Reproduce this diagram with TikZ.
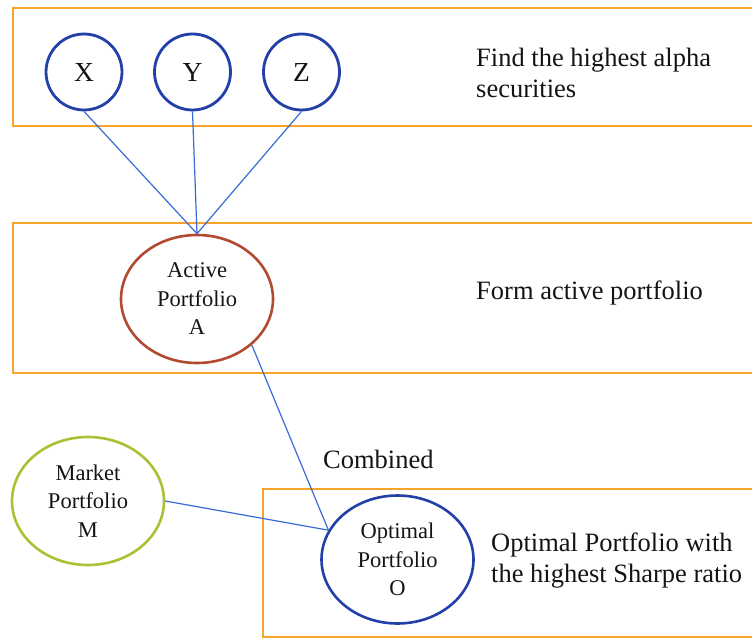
\documentclass[tikz,border=0pt]{standalone}
\usepackage{fontspec}
\setmainfont{Liberation Serif}
\usetikzlibrary{shapes.geometric}
\definecolor{bandorange}{RGB}{248,164,44}
\definecolor{secblue}{RGB}{34,64,168}
\definecolor{linkblue}{RGB}{58,106,214}
\definecolor{activered}{RGB}{178,74,50}
\definecolor{marketgreen}{RGB}{168,194,52}
\definecolor{ink}{RGB}{20,20,20}
\tikzset{
  band/.style={draw=bandorange, line width=2.8pt},
  secnode/.style={circle, draw=secblue, line width=2.8pt, minimum size=76pt, inner sep=0pt,
    text=ink, font=\fontsize{27.5}{30}\selectfont},
  portnode/.style={ellipse, line width=2.6pt, inner sep=0pt, align=center,
    minimum width=152pt, minimum height=128pt, text=ink, font=\fontsize{22.5}{28.5}\selectfont},
  link/.style={draw=linkblue, line width=1.2pt},
  caption/.style={anchor=west, inner sep=0pt, align=left, text=ink,
    font=\fontsize{26.5}{31}\selectfont}
}
\begin{document}
\begin{tikzpicture}[x=1pt,y=-1pt]
  \useasboundingbox (0,0) rectangle (752,639);
  \begin{scope}
    \clip (0,0) rectangle (752,639);
    % stage bands
    \draw[band] (13,8) rectangle (780,126);
    \draw[band] (13,223) rectangle (780,373);
    \draw[band] (263,489) rectangle (780,637);
  \end{scope}

  % securities
  \node[secnode] (X) at (84,72) {X};
  \node[secnode] (Y) at (192.5,72) {Y};
  \node[secnode] (Z) at (301.5,72) {Z};

  % portfolios
  \node[portnode, draw=activered] (A) at (197,299) {Active\\Portfolio\\A};
  \node[portnode, draw=marketgreen] (M) at (88,501) {Market\\Portfolio\\M};
  \node[portnode, draw=secblue] (O) at (397.5,559.5) {Optimal\\Portfolio\\O};

  % connectors
  \draw[link] (X.south) -- (A.north);
  \draw[link] (Y.south) -- (A.north);
  \draw[link] (Z.south) -- (A.north);
  \draw[link] (A.-40) -- (O.157);
  \draw[link] (M.east) -- (O.157);

  % captions
  \node[caption] (c1) at (476,73) {Find the highest alpha\\securities};
  \node[caption] (c2) at (476,293) {Form active portfolio};
  \node[caption] (c3) at (491,561) {Optimal Portfolio with\\the highest Sharpe ratio};
  \node[anchor=base west, inner sep=0pt, text=ink, font=\fontsize{26.5}{31}\selectfont] (comb) at (323,468) {Combined};
\end{tikzpicture}
\end{document}
